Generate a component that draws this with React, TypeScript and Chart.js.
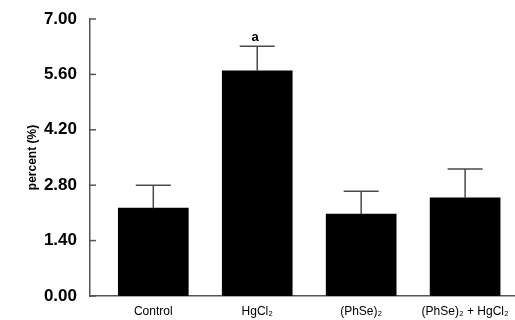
import React, { useEffect, useRef } from "react";
import { Chart, registerables } from "chart.js";

Chart.register(...registerables);

const categories = ["Control", "HgCl₂", "(PhSe)₂", "(PhSe)₂ + HgCl₂"];
const means = [2.22, 5.69, 2.07, 2.48];
const sem = [0.58, 0.62, 0.58, 0.73];
const markers = ["", "a", "", ""];
const yTicks = [0, 1.4, 2.8, 4.2, 5.6, 7.0];

const FONT = "'Liberation Sans', Arial, Helvetica, sans-serif";
const AXIS_COLOR = "#555555";

const errorBarPlugin = {
  id: "errorBars",
  afterDatasetsDraw(chart: any) {
    const { ctx } = chart;
    const x = chart.scales.x;
    const y = chart.scales.y;
    ctx.save();
    ctx.strokeStyle = "#4a4a4a";
    ctx.lineWidth = 1.5;
    means.forEach((m, i) => {
      const cx = x.getPixelForValue(i);
      const yTop = y.getPixelForValue(m);
      const yErr = y.getPixelForValue(m + sem[i]);
      ctx.beginPath();
      ctx.moveTo(cx, yTop);
      ctx.lineTo(cx, yErr);
      ctx.moveTo(cx - 17.5, yErr);
      ctx.lineTo(cx + 17.5, yErr);
      ctx.stroke();
      if (markers[i]) {
        ctx.fillStyle = "#000";
        ctx.font = `bold 13px ${FONT}`;
        ctx.textAlign = "center";
        ctx.textBaseline = "middle";
        ctx.fillText(markers[i], cx - 2, yErr - 9);
      }
    });
    // inward tick marks on the value axis
    ctx.strokeStyle = AXIS_COLOR;
    ctx.lineWidth = 1.5;
    const left = chart.chartArea.left;
    y.ticks.forEach((t: any) => {
      const py = y.getPixelForValue(t.value);
      ctx.beginPath();
      ctx.moveTo(left, py);
      ctx.lineTo(left + 6, py);
      ctx.stroke();
    });
    ctx.restore();
  },
};

export default function App() {
  const ref = useRef<HTMLCanvasElement>(null);

  useEffect(() => {
    if (!ref.current) return;
    const chart = new Chart(ref.current, {
      type: "bar",
      data: {
        datasets: [
          {
            data: means.map((v, i) => ({ x: i, y: v })),
            backgroundColor: "#000000",
            borderWidth: 0,
            barThickness: 70,
          },
        ],
      },
      options: {
        animation: false,
        responsive: false,
        layout: { padding: { top: 19, right: 0, left: 0, bottom: 0 } },
        plugins: { legend: { display: false }, tooltip: { enabled: false } },
        scales: {
          x: {
            type: "linear",
            offset: false,
            min: -0.609,
            max: 3.48,
            grid: { display: false, drawTicks: false, offset: false },
            border: { display: true, color: AXIS_COLOR, width: 1.5 },
            afterBuildTicks: (scale: any) => {
              scale.ticks = categories.map((_, i) => ({ value: i }));
            },
            afterFit: (scale: any) => {
              scale.height = 24;
              scale.paddingLeft = 0;
              scale.paddingRight = 0;
            },
            ticks: {
              autoSkip: false,
              maxRotation: 0,
              padding: 8,
              color: "#000",
              font: { family: FONT, size: 12 },
              callback: (v: any) => categories[v as number] ?? "",
            },
          },
          y: {
            min: 0,
            max: 7,
            grid: { display: false, drawTicks: false },
            border: { display: true, color: AXIS_COLOR, width: 1.5 },
            afterBuildTicks: (scale: any) => {
              scale.ticks = yTicks.map((v) => ({ value: v }));
            },
            afterFit: (scale: any) => {
              scale.width = 90;
              scale.paddingTop = 0;
              scale.paddingBottom = 0;
            },
            ticks: {
              padding: 13,
              color: "#000",
              font: { family: FONT, size: 17, weight: "bold" },
              callback: (v: any) => Number(v).toFixed(2),
            },
            title: {
              display: true,
              text: "percent (%)",
              color: "#000",
              font: { family: FONT, size: 12, weight: "bold" },
              padding: { top: 25, bottom: 0 },
            },
          },
        },
      },
      plugins: [errorBarPlugin],
    } as any);
    return () => chart.destroy();
  }, []);

  return (
    <div style={{ position: "fixed", left: 0, top: 0, width: 515, height: 320, background: "#fff" }}>
      <canvas ref={ref} width={515} height={320} />
    </div>
  );
}
